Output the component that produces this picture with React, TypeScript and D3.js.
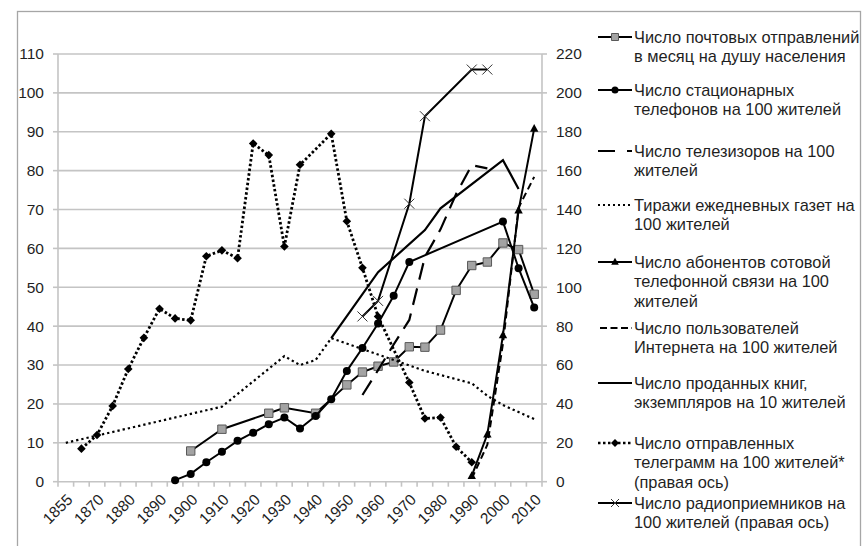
import React from "react";
import * as d3 from "d3";

const categories = [
  "1855", "1865", "1870", "1875", "1880", "1885", "1890", "1895", "1900", "1905",
  "1910", "1915", "1920", "1925", "1930", "1935", "1940", "1945", "1950", "1955",
  "1960", "1965", "1970", "1975", "1980", "1985", "1990", "1995", "2000", "2005", "2010",
];
const shownLabels = [
  "1855", "1870", "1880", "1890", "1900", "1910", "1920", "1930",
  "1940", "1950", "1960", "1970", "1980", "1990", "2000", "2010",
];
const leftTicks = [0, 10, 20, 30, 40, 50, 60, 70, 80, 90, 100, 110];
const rightTicks = [0, 20, 40, 60, 80, 100, 120, 140, 160, 180, 200, 220];

type P = [string, number];

const mail: P[] = [
  ["1900", 7.9], ["1910", 13.5], ["1925", 17.6], ["1930", 19.0], ["1940", 17.6],
  ["1950", 24.9], ["1955", 28.2], ["1960", 29.7], ["1965", 30.8], ["1970", 34.7],
  ["1975", 34.6], ["1980", 39.0], ["1985", 49.2], ["1990", 55.6], ["1995", 56.5],
  ["2000", 61.4], ["2005", 59.7], ["2010", 48.2],
];
const phones: P[] = [
  ["1895", 0.4], ["1900", 2.0], ["1905", 5.0], ["1910", 7.7], ["1915", 10.5],
  ["1920", 12.6], ["1925", 14.8], ["1930", 16.5], ["1935", 13.7], ["1940", 16.9],
  ["1945", 21.2], ["1950", 28.5], ["1955", 34.4], ["1960", 40.7], ["1965", 47.8],
  ["1970", 56.5], ["2000", 66.9], ["2005", 54.9], ["2010", 44.8],
];
const tv: P[] = [
  ["1955", 22.3], ["1960", 28.7], ["1965", 35.3], ["1970", 41.6], ["1975", 57.8],
  ["1980", 64.9], ["1985", 74.0], ["1990", 81.4], ["1995", 80.6],
];
const newspapers: P[] = [
  ["1855", 10.0], ["1910", 19.3], ["1930", 32.3], ["1935", 30.0], ["1940", 31.3],
  ["1945", 36.9], ["1975", 28.5], ["1990", 25.3], ["1995", 22.1], ["2000", 19.7],
  ["2010", 16.1],
];
const cellular: P[] = [
  ["1990", 1.5], ["1995", 12.2], ["2000", 37.7], ["2005", 69.8], ["2010", 90.8],
];
const internet: P[] = [
  ["1990", 0.8], ["1995", 9.5], ["2000", 35.5], ["2005", 70.5], ["2010", 78.4],
];
const books: P[] = [
  ["1945", 36.9], ["1960", 53.9], ["1975", 64.7], ["1980", 70.3], ["2000", 82.7],
  ["2005", 75.3],
];
// right axis
const telegrams: P[] = [
  ["1865", 17], ["1870", 24], ["1875", 39], ["1880", 58], ["1885", 74], ["1890", 89],
  ["1895", 84], ["1900", 83], ["1905", 116], ["1910", 119], ["1915", 115], ["1920", 174],
  ["1925", 168], ["1930", 121], ["1935", 163], ["1945", 179], ["1950", 134], ["1955", 110],
  ["1960", 85], ["1970", 51], ["1975", 32.5], ["1980", 33], ["1985", 18], ["1990", 10],
];
const radios: P[] = [
  ["1955", 85], ["1960", 93], ["1970", 143], ["1975", 188], ["1990", 212], ["1995", 212],
];

const legendLabels: string[][] = [
  ["Число почтовых отправлений", "в месяц на душу населения"],
  ["Число стационарных", "телефонов на 100 жителей"],
  ["Число телезизоров на 100", "жителей"],
  ["Тиражи ежедневных газет на", "100 жителей"],
  ["Число абонентов сотовой", "телефонной связи на 100", "жителей"],
  ["Число пользователей", "Интернета на 100 жителей"],
  ["Число проданных книг,", "экземпляров на 10 жителей"],
  ["Число отправленных", "телеграмм на 100 жителей*", "(правая ось)"],
  ["Число радиоприемников на", "100 жителей (правая ось)"],
];
const legendY = [37, 90, 151, 205, 262, 328, 383, 443, 503];

const FONT = "'Liberation Sans', Arial, sans-serif";
const TXT = "#1f1f1f";
const GRID = "#c4c4c4";

const L = 58, R = 542, T = 54, B = 481.7;

const x = d3.scaleBand<string>().domain(categories).range([L, R]).paddingInner(0).paddingOuter(0);
const bw = x.bandwidth();
const cx = (c: string) => (x(c) as number) + bw / 2;
const yL = d3.scaleLinear().domain([0, 110]).range([B, T]);
const yR = d3.scaleLinear().domain([0, 220]).range([B, T]);

const lineL = d3.line<P>().x((d) => cx(d[0])).y((d) => yL(d[1]));
const lineR = d3.line<P>().x((d) => cx(d[0])).y((d) => yR(d[1]));

const sq = (s: number) => `M${-s},${-s}H${s}V${s}H${-s}Z`;
const diamond = (s: number) => `M0,${-s}L${s},0L0,${s}L${-s},0Z`;
const tri = (s: number) => `M0,${-s * 1.1}L${s},${s * 0.75}L${-s},${s * 0.75}Z`;
const cross = (s: number) => `M${-s},${-s}L${s},${s}M${-s},${s}L${s},${-s}`;

function Markers({ data, y, kind, size }: { data: P[]; y: (v: number) => number; kind: string; size: number }) {
  return (
    <g>
      {data.map((d, i) => {
        const tx = `translate(${cx(d[0])},${y(d[1])})`;
        if (kind === "square")
          return <path key={i} transform={tx} d={sq(size)} fill="#a3a3a3" stroke="#595959" strokeWidth={1} />;
        if (kind === "circle")
          return <circle key={i} cx={cx(d[0])} cy={y(d[1])} r={size} fill="#000" />;
        if (kind === "diamond")
          return <path key={i} transform={tx} d={diamond(size)} fill="#000" />;
        if (kind === "triangle")
          return <path key={i} transform={tx} d={tri(size)} fill="#000" />;
        return <path key={i} transform={tx} d={cross(size)} stroke="#333" strokeWidth={1} fill="none" />;
      })}
    </g>
  );
}

function LegendSymbol({ i, y }: { i: number; y: number }) {
  const x0 = 598, x1 = 632, xm = (x0 + x1) / 2;
  const base = { stroke: "#000", fill: "none" } as any;
  switch (i) {
    case 0:
      return (
        <g>
          <line x1={x0} x2={x1} y1={y} y2={y} {...base} strokeWidth={2} />
          <path transform={`translate(${xm},${y})`} d={sq(3.5)} fill="#a3a3a3" stroke="#595959" />
        </g>
      );
    case 1:
      return (
        <g>
          <line x1={x0} x2={x1} y1={y} y2={y} {...base} strokeWidth={2} />
          <circle cx={xm} cy={y} r={3.5} fill="#000" />
        </g>
      );
    case 2:
      return <line x1={x0} x2={x1} y1={y} y2={y} {...base} strokeWidth={2.2} strokeDasharray="17,12" />;
    case 3:
      return <line x1={x0} x2={x1} y1={y} y2={y} {...base} strokeWidth={2} strokeDasharray="2,3" />;
    case 4:
      return (
        <g>
          <line x1={x0} x2={x1} y1={y} y2={y} {...base} strokeWidth={2} />
          <path transform={`translate(${xm},${y})`} d={tri(3.8)} fill="#000" />
        </g>
      );
    case 5:
      return <line x1={x0 + 2} x2={x1} y1={y} y2={y} {...base} strokeWidth={2} strokeDasharray="7,3.5" />;
    case 6:
      return <line x1={x0} x2={x1} y1={y} y2={y} {...base} strokeWidth={2.2} />;
    case 7:
      return (
        <g>
          <line x1={x0} x2={x1} y1={y} y2={y} {...base} strokeWidth={2.5} strokeDasharray="2.5,2.5" />
          <path transform={`translate(${xm},${y})`} d={diamond(4)} fill="#000" />
        </g>
      );
    default:
      return (
        <g>
          <line x1={x0} x2={x1} y1={y} y2={y} {...base} strokeWidth={2} />
          <path transform={`translate(${xm},${y})`} d={cross(4)} stroke="#333" strokeWidth={1} fill="none" />
        </g>
      );
  }
}

export default function App() {
  return (
    <svg
      width={867}
      height={546}
      style={{ position: "absolute", left: 0, top: 0, background: "#fff" }}
      fontFamily={FONT}
    >
      <rect x={0} y={0} width={867} height={546} fill="#fff" />
      <rect x={17.5} y={11.5} width={843} height={560} fill="none" stroke="#a6a6a6" strokeWidth={1.3} />

      {/* gridlines */}
      {leftTicks.map((t) => (
        <line key={t} x1={L} x2={R} y1={yL(t)} y2={yL(t)} stroke={GRID} strokeWidth={1.6} />
      ))}
      {/* axes */}
      <line x1={L} x2={L} y1={T} y2={B} stroke={GRID} strokeWidth={1.6} />
      <line x1={R} x2={R} y1={T} y2={B} stroke={GRID} strokeWidth={1.6} />
      {leftTicks.map((t) => (
        <line key={"lt" + t} x1={L - 5} x2={L} y1={yL(t)} y2={yL(t)} stroke={GRID} strokeWidth={1.6} />
      ))}
      {rightTicks.map((t) => (
        <line key={"rt" + t} x1={R} x2={R + 5} y1={yR(t)} y2={yR(t)} stroke={GRID} strokeWidth={1.6} />
      ))}
      {categories.map((c, i) => (
        <line key={"xt" + i} x1={x(c) as number} x2={x(c) as number} y1={B} y2={B + 5} stroke={GRID} strokeWidth={1.6} />
      ))}
      <line x1={R} x2={R} y1={B} y2={B + 5} stroke={GRID} strokeWidth={1.6} />

      {/* tick labels */}
      {leftTicks.map((t) => (
        <text key={"ll" + t} x={44} y={yL(t)} dy="0.35em" textAnchor="end" fontSize={15.5} fill={TXT}>
          {t}
        </text>
      ))}
      {rightTicks.map((t) => (
        <text key={"rl" + t} x={556} y={yR(t)} dy="0.35em" textAnchor="start" fontSize={15.5} fill={TXT}>
          {t}
        </text>
      ))}
      {shownLabels.map((c) => (
        <text
          key={"xl" + c}
          transform={`translate(${cx(c) + 4},${B + 15}) rotate(-45)`}
          dy="0.35em"
          textAnchor="end"
          fontSize={15.5}
          fill={TXT}
        >
          {c}
        </text>
      ))}

      {/* series */}
      <path d={lineL(mail) as string} fill="none" stroke="#000" strokeWidth={2} />
      <Markers data={mail} y={yL} kind="square" size={4.2} />
      <path d={lineL(phones) as string} fill="none" stroke="#000" strokeWidth={2} />
      <Markers data={phones} y={yL} kind="circle" size={4} />
      <path d={lineL(tv) as string} fill="none" stroke="#000" strokeWidth={2.2} strokeDasharray="17,9" />
      <path d={lineL(newspapers) as string} fill="none" stroke="#000" strokeWidth={2.2} strokeDasharray="2.3,3" />
      <path d={lineL(cellular) as string} fill="none" stroke="#000" strokeWidth={2} />
      <Markers data={cellular} y={yL} kind="triangle" size={4.2} />
      <path d={lineL(internet) as string} fill="none" stroke="#000" strokeWidth={2} strokeDasharray="7,4" />
      <path d={lineL(books) as string} fill="none" stroke="#000" strokeWidth={2.2} />
      <path d={lineR(telegrams) as string} fill="none" stroke="#000" strokeWidth={2.8} strokeDasharray="2.5,2.3" />
      <Markers data={telegrams} y={yR} kind="diamond" size={4.3} />
      <path d={lineR(radios) as string} fill="none" stroke="#000" strokeWidth={2} />
      <Markers data={radios} y={yR} kind="cross" size={5} />

      {/* legend */}
      {legendLabels.map((lines, i) => (
        <g key={"lg" + i}>
          <LegendSymbol i={i} y={legendY[i]} />
          {lines.map((s, j) => (
            <text key={j} x={634} y={legendY[i] + j * 19.5} dy="0.35em" fontSize={16.4} fill={TXT}>
              {s}
            </text>
          ))}
        </g>
      ))}
    </svg>
  );
}
